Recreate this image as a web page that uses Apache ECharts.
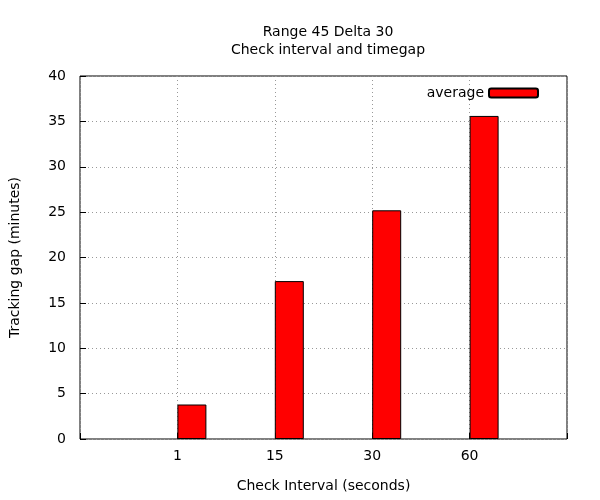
<!DOCTYPE html>
<html><head><meta charset="utf-8">
<script src="https://cdn.jsdelivr.net/npm/echarts@6/dist/echarts.min.js"></script>
<style>html,body{margin:0;padding:0;background:#fff}#c{width:600px;height:500px}</style>
</head><body><div id="c"></div>
<script>
const categories = ["1", "15", "30", "60"];
const averageValues = [3.8, 17.4, 25.2, 35.6];
const yTicks = [0, 5, 10, 15, 20, 25, 30, 35, 40];

const chart = echarts.init(document.getElementById('c'));
const font = 'DejaVu Sans';
chart.setOption({
  animation: false,
  textStyle: {fontFamily: font},
  title: {
    text: 'Range 45 Delta 30\nCheck interval and timegap',
    left: 323, top: 18, textAlign: 'center',
    textStyle: {fontFamily: font, fontSize: 14, fontWeight: 'normal', color: '#000', lineHeight: 18}
  },
  legend: {
    data: ['average'], right: 56, top: 81, itemWidth: 49, itemHeight: 9, itemGap: 14,
    align: 'right',
    textStyle: {fontFamily: font, fontSize: 14, color: '#000'}
  },
  grid: {left: 80, right: 33, top: 76, bottom: 61, show: true, borderColor: '#000', borderWidth: 1},
  xAxis: {
    type: 'value', min: 0, max: 5, interval: 1,
    name: 'Check Interval (seconds)', nameLocation: 'middle', nameGap: 40,
    nameTextStyle: {fontFamily: font, fontSize: 14, color: '#000'},
    axisLine: {show: false},
    axisTick: {show: true, inside: true, length: 6, lineStyle: {color: '#000'}},
    axisLabel: {fontFamily: font, fontSize: 14, color: '#000', margin: 10,
      formatter: v => (v >= 1 && v <= categories.length) ? categories[v - 1] : ''},
    splitLine: {show: true, lineStyle: {color: '#999', type: [1, 3]}}
  },
  yAxis: {
    type: 'value', min: 0, max: 40, interval: 5,
    name: 'Tracking gap (minutes)', nameLocation: 'middle', nameGap: 58,
    nameTextStyle: {fontFamily: font, fontSize: 14, color: '#000'},
    axisLine: {show: false},
    axisTick: {show: true, inside: true, length: 6, lineStyle: {color: '#000'}},
    axisLabel: {fontFamily: font, fontSize: 14, color: '#000', margin: 14,
      formatter: v => yTicks.includes(v) ? String(v) : ''},
    splitLine: {show: true, lineStyle: {color: '#999', type: [1, 3]}}
  },
  series: [
    {name: 'spacer', type: 'bar', barWidth: 29, barGap: '0%',
     data: categories.map((c, i) => [i + 1, '-']), silent: true},
    {name: 'average', type: 'bar', barWidth: 29, barGap: '0%',
     itemStyle: {color: '#ff0000', borderColor: '#000', borderWidth: 1},
     data: averageValues.map((v, i) => [i + 1, v])}
  ]
});
</script></body></html>
